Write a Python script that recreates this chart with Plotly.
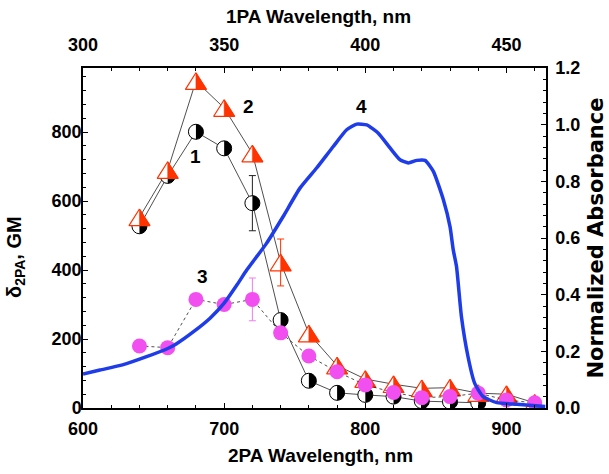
import numpy as np
import plotly.graph_objects as go

# ---------------- data ----------------
wl = [640, 660, 680, 700, 720, 740, 760, 780, 800, 820, 840, 860, 880, 900, 920]

s1_x = [640, 660, 680, 700, 720, 740, 760, 780, 800, 820, 840, 860, 880]
s1_y = [527, 673, 801, 753, 594, 255, 79, 44, 38, 33, 20, 18, 15]
s1_err = [None, None, None, None, 80, None, None, None, None, None, None, None, None]

s2_x = wl
s2_y = [553, 690, 948, 870, 738, 422, 216, 123, 84, 69, 57, 59, 43, 40, 15]
s2_err = [None, None, None, None, None, 68, None, None, None, None, None, None, None, None, None]

s3_x = wl
s3_y = [180, 175, 315, 300, 315, 218, 151, 105, 67, 45, 30, 33, 43, 23, 15]
s3_err = [None, None, None, None, 62, None, None, None, None, None, None, None, None, None, None]

abs_x = [600, 612, 628, 645, 660, 666, 679, 690, 700, 709, 716, 730, 741.7, 753.7, 765.5,
         777.3, 786.8, 793.9, 801, 809.2, 817.5, 824.6, 830.5, 836.5, 842.3, 848.2, 855.3,
         860, 862.3, 864.6, 868.1, 872.8, 877.5, 883.4, 893.2, 907.4, 927.5]
abs_y = [0.12, 0.134, 0.152, 0.181, 0.21, 0.226, 0.272, 0.317, 0.37, 0.434, 0.487, 0.581, 0.675,
         0.776, 0.847, 0.923, 0.982, 1.002, 0.999, 0.97, 0.918, 0.876, 0.865, 0.874, 0.874, 0.835,
         0.735, 0.64, 0.558, 0.499, 0.322, 0.18, 0.087, 0.04, 0.019, 0.013, 0.005]

labels = ["1", "2", "3", "4"]
label_x = [680, 717, 685, 797]
label_y = [729, 874, 381, 874]

x_range = [600, 928]
x2_range = [300, 464]
y_range = [0, 986]
y2_range = [0, 1.2]

# ---------------- geometry ----------------
W, H = 609, 474
ML, MR, MT, MB = 83, 63, 68, 66
PW, PH = W - ML - MR, H - MT - MB
kx = PW / (x_range[1] - x_range[0])   # px per nm
ky = PH / (y_range[1] - y_range[0])   # px per GM

FONT = "Liberation Sans, Arial, sans-serif"
RED = "#FF3300"
MAG = "#F24FF0"
BLUE = "#1E3CE8"


def half_disk(xs, ys, r):
    px, py = [], []
    th = np.linspace(-np.pi / 2, np.pi / 2, 19)
    for x, y in zip(xs, ys):
        px += list(x + r * np.cos(th) / kx) + [None]
        py += list(y + r * np.sin(th) / ky) + [None]
    return px, py


def triangles(xs, ys, hw, hh, right_half=False):
    px, py = [], []
    for x, y in zip(xs, ys):
        if right_half:
            vx = [x, x + hw / kx, x, x]
            vy = [y + hh / ky, y - hh / ky, y - hh / ky, y + hh / ky]
        else:
            vx = [x, x + hw / kx, x - hw / kx, x]
            vy = [y + hh / ky, y - hh / ky, y - hh / ky, y + hh / ky]
        px += vx + [None]
        py += vy + [None]
    return px, py


fig = go.Figure()

# connecting lines + error bars
fig.add_trace(go.Scatter(x=s1_x, y=s1_y, mode="lines", line=dict(color="#222", width=0.8),
                         error_y=dict(type="data", array=s1_err, color="#222", thickness=1, width=3.5),
                         showlegend=False, hoverinfo="skip"))
fig.add_trace(go.Scatter(x=s2_x, y=s2_y, mode="lines", line=dict(color="#222", width=0.8),
                         error_y=dict(type="data", array=s2_err, color=RED, thickness=1, width=3.5),
                         showlegend=False, hoverinfo="skip"))

# series 1 markers: white circle + black right half
fig.add_trace(go.Scatter(x=s1_x, y=s1_y, mode="markers",
                         marker=dict(symbol="circle", size=15, color="white", line=dict(color="black", width=1)),
                         showlegend=False, hoverinfo="skip"))
hx, hy = half_disk(s1_x, s1_y, 7.6)
fig.add_trace(go.Scatter(x=hx, y=hy, mode="lines", fill="toself", fillcolor="black",
                         line=dict(width=0, color="black"), showlegend=False, hoverinfo="skip"))

# series 2 markers: white triangle with red outline + red right half
tx, ty = triangles(s2_x, s2_y, 10.5, 8.3)
fig.add_trace(go.Scatter(x=tx, y=ty, mode="lines", fill="toself", fillcolor="white",
                         line=dict(width=1.2, color=RED), showlegend=False, hoverinfo="skip"))
tx2, ty2 = triangles(s2_x, s2_y, 10.5, 8.3, right_half=True)
fig.add_trace(go.Scatter(x=tx2, y=ty2, mode="lines", fill="toself", fillcolor=RED,
                         line=dict(width=0.5, color=RED), showlegend=False, hoverinfo="skip"))

# series 3
fig.add_trace(go.Scatter(x=s3_x, y=s3_y, mode="lines+markers",
                         line=dict(color="#222", width=0.8, dash="3px,3px"),
                         marker=dict(symbol="circle", size=15, color=MAG, line=dict(width=0)),
                         error_y=dict(type="data", array=s3_err, color="#F07CF0", thickness=1, width=3.5),
                         showlegend=False, hoverinfo="skip"))

# absorbance
fig.add_trace(go.Scatter(x=abs_x, y=abs_y, mode="lines", yaxis="y2",
                         line=dict(color=BLUE, width=3.5, shape="spline", smoothing=0.5),
                         showlegend=False, hoverinfo="skip"))

# invisible trace to activate the top axis
fig.add_trace(go.Scatter(x=x2_range, y=[0, 0], xaxis="x2", mode="markers",
                         marker=dict(opacity=0), showlegend=False, hoverinfo="skip"))

tickfont = dict(family=FONT, size=18, color="black", weight="bold")
axis_common = dict(showgrid=False, zeroline=False, showline=True, linecolor="black", linewidth=1.5,
                   ticks="inside", tickcolor="black", tickwidth=1.2, tickfont=tickfont, automargin=False)

fig.update_layout(
    width=W, height=H,
    margin=dict(l=ML, r=MR, t=MT, b=MB, autoexpand=False),
    paper_bgcolor="white", plot_bgcolor="white",
    xaxis=dict(range=x_range, dtick=100, tick0=600, ticklen=5,
               minor=dict(ticks="inside", dtick=20, ticklen=3, tickcolor="black", tickwidth=1),
               ticklabelstandoff=4, **axis_common),
    xaxis2=dict(range=x2_range, dtick=50, tick0=300, ticklen=5, overlaying="x", side="top", anchor="y",
                minor=dict(ticks="inside", dtick=10, ticklen=3, tickcolor="black", tickwidth=1),
                ticklabelstandoff=8, **axis_common),
    yaxis=dict(range=y_range, dtick=200, tick0=0, ticklen=5,
               minor=dict(ticks="inside", dtick=40, ticklen=3, tickcolor="black", tickwidth=1),
               ticklabelstandoff=-4, **axis_common),
    yaxis2=dict(range=y2_range, dtick=0.2, tick0=0, ticklen=5, overlaying="y", side="right", anchor="x",
                tickformat=".1f",
                minor=dict(ticks="inside", dtick=0.04, ticklen=3, tickcolor="black", tickwidth=1),
                ticklabelstandoff=4,
                title=dict(text="Normalized Absorbance", standoff=9,
                           font=dict(family="DejaVu Sans", size=21, color="black", weight="bold")),
                **axis_common),
)

annos = []
for t, x, y in zip(labels, label_x, label_y):
    annos.append(dict(text=t, x=x, y=y, xref="x", yref="y", showarrow=False,
                      font=dict(family=FONT, size=19, color="black", weight="bold")))

titlefont = dict(family=FONT, size=19, color="black", weight="bold")
annos += [
    dict(text="2PA Wavelength, nm", x=(320 - ML) / PW, y=(H - MB - 455) / PH, xref="paper", yref="paper",
         showarrow=False, font=titlefont, xanchor="center", yanchor="middle"),
    dict(text="1PA Wavelength, nm", x=(318 - ML) / PW, y=(H - MB - 16) / PH, xref="paper", yref="paper",
         showarrow=False, font=titlefont, xanchor="center", yanchor="middle"),
    dict(text="δ<sub>2PA</sub>, GM", x=(15 - ML) / PW, y=(H - MB - 257) / PH, xref="paper", yref="paper",
         showarrow=False, textangle=-90, font=dict(family=FONT, size=20, color="black", weight="bold"),
         xanchor="center", yanchor="middle"),
]
fig.update_layout(annotations=annos)

fig.write_html("out.html", config={"displayModeBar": False},
               post_script="document.body.style.margin='0px';document.body.style.overflow='hidden';")
